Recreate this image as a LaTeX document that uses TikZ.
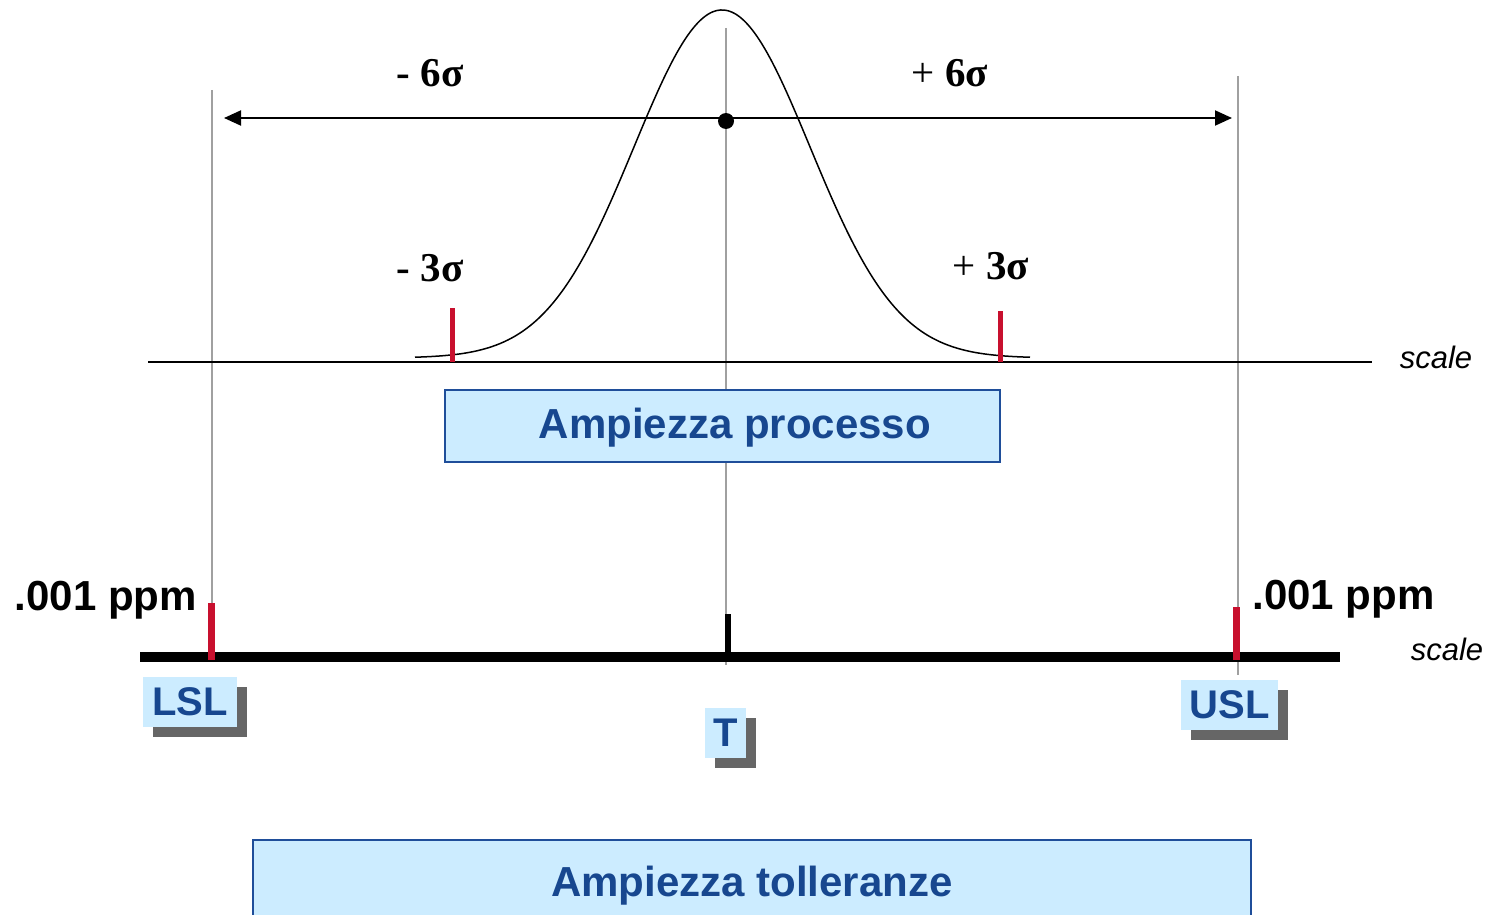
\documentclass[tikz,border=0pt]{standalone}
\usepackage{fontspec}
\setmainfont{Liberation Serif}
\setsansfont{Liberation Sans}
\usetikzlibrary{arrows.meta,shadows}
\definecolor{boxfill}{HTML}{CCECFF}
\definecolor{boxline}{HTML}{1F4E9A}
\definecolor{bluetxt}{HTML}{17478F}
\definecolor{tickred}{HTML}{C8102E}
\definecolor{guidegray}{HTML}{A0A0A0}
\definecolor{shadowgray}{HTML}{666666}
\tikzset{
  guide/.style={draw=guidegray, line width=1pt},
  redtick/.style={draw=tickred, line width=2.5pt},
  redtickbig/.style={draw=tickred, line width=3.5pt},
  sigmalbl/.style={font=\fontsize{20.5}{24}\selectfont, inner sep=0, anchor=base},
  bigblue/.style={font=\sffamily\bfseries\fontsize{21}{25}\selectfont, text=bluetxt, inner sep=0, anchor=base},
  widebox/.style={draw=boxline, line width=1.4pt, fill=boxfill, inner sep=0},
  tagbox/.style={fill=boxfill, text=bluetxt, font=\sffamily\bfseries\fontsize{20}{24}\selectfont,
    inner sep=0, minimum height=25pt,
    drop shadow={shadow xshift=5pt, shadow yshift=-5pt, fill=shadowgray, opacity=1}},
  scalelbl/.style={font=\sffamily\itshape\fontsize{15.5}{18}\selectfont, inner sep=0, anchor=base},
  ppm/.style={font=\sffamily\bfseries\fontsize{21}{25}\selectfont, inner sep=0, anchor=base},
  sixarrow/.style={line width=1pt, {Triangle[length=8.5pt,width=7.5pt]}-{Triangle[length=8.5pt,width=7.5pt]}}
}
\begin{document}
\begin{tikzpicture}[x=0.5pt,y=-0.5pt]
\useasboundingbox (0,0) rectangle (1490,915);
\clip (0,0) rectangle (1490,915);

% guide lines
\coordinate (lslTop) at (212,90);
\coordinate (lslBot) at (212,655);
\coordinate (tTop) at (726,28);
\coordinate (tBot) at (726,665);
\coordinate (uslTop) at (1238,76);
\coordinate (uslBot) at (1238,675);
\draw[guide] (lslTop) -- (lslBot);
\draw[guide] (tTop) -- (tBot);
\draw[guide] (uslTop) -- (uslBot);

% bell curve
\draw[line width=0.75pt] plot[domain=415:1030, samples=160, smooth]
  (\x, {358-348*exp(-0.5*((\x-722)/88)^2)});

% upper scale
\coordinate (upL) at (148,362);
\coordinate (upR) at (1372,362);
\draw[line width=0.8pt] (upL) -- (upR);
\node[scalelbl] (scaleUp) at (1436,368) {scale};

% sigma ticks
\coordinate (m3a) at (452,308);
\coordinate (m3b) at (452,362);
\coordinate (p3a) at (1000,311);
\coordinate (p3b) at (1000,362);
\draw[redtick] (m3a) -- (m3b);
\draw[redtick] (p3a) -- (p3b);

% sigma labels
\node[sigmalbl] (m6) at (430,87) {\textbf{- 6σ}};
\node[sigmalbl] (p6) at (950,87) {+ \textbf{6σ}};
\node[sigmalbl] (m3) at (430,281) {\textbf{- 3σ}};
\node[sigmalbl] (p3) at (991,279) {+ \textbf{3σ}};

% 6 sigma arrow
\coordinate (aL) at (224,118);
\coordinate (aR) at (1232,118);
\draw[sixarrow] (aL) -- (aR);
\node[circle, fill=black, inner sep=0, minimum size=8pt] (mu) at (726,121) {};

% process box
\node[widebox, minimum width=277.5pt, minimum height=36pt] (proc) at (722.5,426) {};
\node[bigblue] (procTxt) at (735,438) {Ampiezza processo};

% bottom scale
\coordinate (loL) at (140,657);
\coordinate (loR) at (1340,657);
\draw[line width=5pt] (loL) -- (loR);
\node[scalelbl] (scaleLo) at (1447,660) {scale};

\coordinate (lslA) at (211,603);
\coordinate (lslB) at (211,660);
\coordinate (uslA) at (1236,607);
\coordinate (uslB) at (1236,660);
\coordinate (tA) at (728,614);
\coordinate (tB) at (728,657);
\draw[redtickbig] (lslA) -- (lslB);
\draw[redtickbig] (uslA) -- (uslB);
\draw[line width=3pt] (tA) -- (tB);

\node[ppm] (ppmL) at (106,610) {.001 ppm};
\node[ppm] (ppmR) at (1343.5,609) {.001 ppm};

% tags
\node[tagbox, minimum width=47pt] (lsl) at (190,702) {LSL};
\node[tagbox, minimum width=48.5pt] (usl) at (1229.5,705) {USL};
\node[tagbox, minimum width=20.5pt] (tgt) at (725.5,733) {T};

% tolerance box
\node[widebox, minimum width=499pt, minimum height=60pt] (tol) at (752,900) {};
\node[bigblue] (tolTxt) at (752,896) {Ampiezza tolleranze};
\end{tikzpicture}
\end{document}
